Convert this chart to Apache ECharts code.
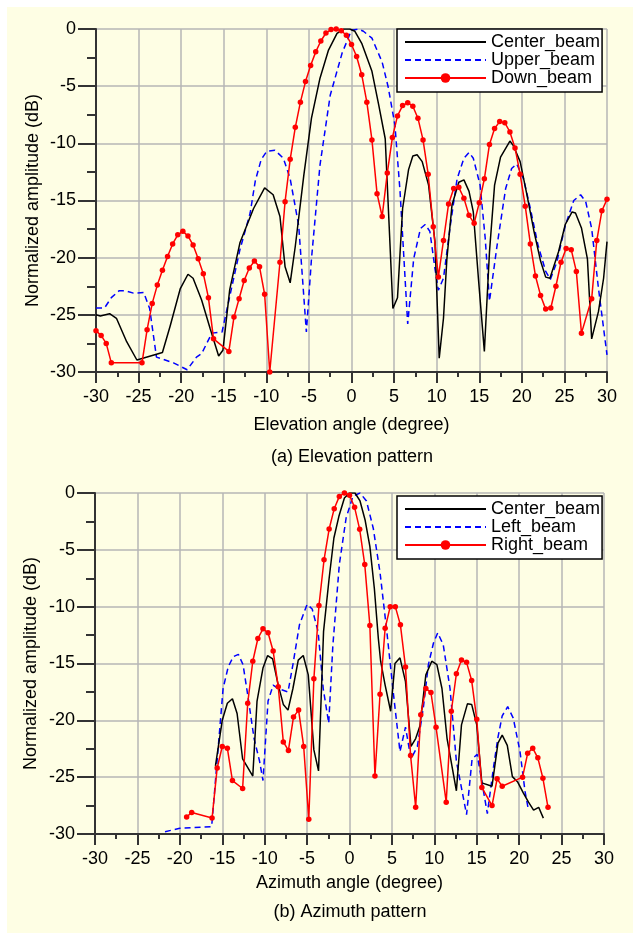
<!DOCTYPE html>
<html>
<head>
<meta charset="utf-8">
<script src="https://cdn.jsdelivr.net/npm/echarts/dist/echarts.min.js"></script>
<style>
  html, body { margin: 0; padding: 0; background: #fff; }
  #chart { width: 633px; height: 933px; }
</style>
</head>
<body>
<div id="chart"></div>
<script>
// (a) elevation pattern, points are [angle (degree), amplitude (dB)]
var elevCenter = [
  [-30, -25.0], [-29.5, -25.1], [-28.4, -24.9], [-27.6, -25.3], [-26.4, -27.35], [-25.2, -28.95],
  [-22.2, -28.3], [-21.3, -26.0], [-20.1, -22.7], [-19.2, -21.45], [-18.6, -21.8], [-17.6, -23.7],
  [-16.6, -26.2], [-15.6, -28.6], [-15.1, -28.1], [-14.3, -22.8], [-13.1, -18.7], [-11.5, -15.7],
  [-10.2, -13.9], [-9.2, -14.5], [-8.4, -16.4], [-7.8, -20.8], [-7.2, -22.2], [-6.6, -19.0],
  [-5.6, -12.8], [-4.7, -7.8], [-3.7, -4.3], [-2.7, -1.84], [-1.7, -0.38], [-0.9, 0], [-0.2, 0],
  [0.4, -0.2], [1.2, -1.25], [2.4, -3.7], [3.2, -6.65], [3.96, -9.6], [4.86, -24.45], [5.4, -23.5],
  [6.0, -15.7], [6.7, -12.3], [7.2, -11.1], [7.7, -11.0], [8.3, -11.6], [9.05, -13.65], [9.8, -18.6],
  [10.3, -28.8], [10.8, -25.3], [11.2, -20.1], [11.8, -15.4], [12.6, -13.4], [13.2, -13.2],
  [13.8, -14.2], [14.3, -16.0], [14.9, -21.8], [15.6, -28.2], [16.2, -19.5], [16.8, -13.65],
  [17.5, -11.2], [18.6, -9.8], [19.0, -10.2], [19.8, -11.6], [20.6, -14.5], [21.4, -17.6],
  [22.2, -20.3], [22.8, -21.7], [23.3, -21.8], [24.3, -19.5], [25.1, -17.1], [25.9, -16.0],
  [26.3, -16.1], [27.0, -17.4], [27.7, -20.1], [28.2, -27.1], [29.0, -24.7], [29.6, -21.8], [30, -18.6]
];
var elevUpper = [
  [-30, -24.4], [-29.0, -24.4], [-28.2, -23.5], [-27.3, -22.9], [-26.5, -22.9], [-25.6, -23.1],
  [-24.4, -23.05], [-23.7, -24.45], [-22.9, -28.7], [-20.9, -29.2], [-19.3, -29.8], [-18.2, -28.7],
  [-17.6, -28.4], [-16.4, -26.6], [-15.2, -26.5], [-14.3, -23.4], [-13.1, -19.3], [-11.9, -16.1],
  [-11.3, -13.3], [-10.6, -11.4], [-9.95, -10.7], [-9.0, -10.6], [-8.0, -11.3], [-7.2, -13.1],
  [-6.2, -17.2], [-5.3, -26.5], [-4.7, -20.1], [-3.7, -11.9], [-2.5, -5.8], [-1.1, -2.1], [0, -0.1],
  [0.8, 0], [1.4, -0.2], [2.4, -0.8], [3.6, -2.9], [4.3, -5.05], [5.1, -8.4], [5.7, -14.2],
  [6.6, -25.8], [7.3, -20.1], [8.1, -17.45], [8.65, -17.1], [9.2, -17.7], [9.8, -20.95],
  [10.2, -22.85], [10.8, -21.8], [11.6, -17.2], [12.4, -13.1], [13.2, -11.3], [13.8, -10.8],
  [14.3, -11.3], [15.1, -13.65], [15.7, -18.3], [16.2, -23.8], [17.1, -18.9], [18.1, -13.95],
  [18.8, -12.2], [19.4, -11.8], [20.2, -13.1], [21.0, -15.7], [21.9, -18.9], [22.8, -21.2],
  [23.35, -21.9], [24.1, -20.4], [25.1, -17.2], [26.1, -15.0], [26.9, -14.5], [27.5, -15.1],
  [28.2, -17.45], [29.0, -22.7], [30, -28.5]
];
var elevDown = [
  [-30, -26.4], [-29.4, -26.8], [-28.8, -27.5], [-28.2, -29.2], [-24.6, -29.2], [-24.0, -26.3],
  [-23.4, -24.0], [-22.8, -22.4], [-22.2, -21.1], [-21.6, -19.9], [-21.0, -18.8], [-20.4, -18.0],
  [-19.8, -17.7], [-19.2, -18.1], [-18.6, -18.9], [-18.0, -20.1], [-17.4, -21.4], [-16.8, -23.5],
  [-16.2, -27.1], [-14.4, -28.2], [-13.8, -25.2], [-13.2, -23.6], [-12.6, -22.0], [-12.0, -20.9],
  [-11.4, -20.3], [-10.8, -20.8], [-10.2, -23.2], [-9.6, -30.0], [-8.4, -20.4], [-7.8, -15.1],
  [-7.2, -11.4], [-6.6, -8.6], [-6.0, -6.4], [-5.4, -4.6], [-4.8, -3.2], [-4.2, -2.0], [-3.6, -1.05],
  [-3.0, -0.35], [-2.4, -0.05], [-1.8, 0], [-1.2, -0.15], [-0.6, -0.55], [0, -1.35], [0.6, -2.4],
  [1.2, -4.0], [1.8, -6.4], [2.4, -9.7], [3.0, -14.4], [3.6, -16.4], [4.2, -12.6], [4.8, -9.5],
  [5.4, -7.6], [6.0, -6.7], [6.6, -6.45], [7.2, -6.75], [7.8, -7.8], [8.4, -9.7], [9.0, -12.7],
  [9.6, -17.3], [10.2, -21.7], [10.8, -18.5], [11.4, -15.3], [12.0, -13.95], [12.6, -13.85],
  [13.2, -14.8], [13.8, -16.3], [14.4, -17.0], [15.0, -15.2], [15.6, -13.1], [16.2, -10.1],
  [16.8, -8.7], [17.4, -8.1], [18.0, -8.2], [18.6, -9.0], [19.2, -10.4], [19.8, -12.7], [20.4, -15.5],
  [21.0, -18.8], [21.6, -21.6], [22.2, -23.3], [22.8, -24.5], [23.4, -24.4], [24.0, -22.5],
  [24.6, -20.4], [25.2, -19.2], [25.8, -19.3], [26.4, -21.2], [27.0, -26.6], [28.2, -23.6],
  [28.8, -18.5], [29.4, -15.9], [30, -14.9]
];

// (b) azimuth pattern
var aziCenter = [
  [-15.8, -24.0], [-15.0, -20.0], [-14.4, -18.5], [-13.8, -18.1], [-13.25, -19.4], [-12.6, -23.4],
  [-11.4, -24.9], [-10.9, -18.3], [-10.2, -15.4], [-9.65, -14.3], [-9.06, -14.6], [-8.4, -16.9],
  [-7.8, -18.6], [-7.25, -19.1], [-6.67, -17.2], [-6.04, -14.7], [-5.45, -14.3], [-4.86, -16.0],
  [-4.2, -22.6], [-3.65, -24.45], [-3.06, -12.2], [-2.4, -7.5], [-1.84, -3.96], [-1.25, -2.05],
  [-0.6, -0.44], [0, 0], [0.65, 0], [1.24, -0.7], [1.83, -2.35], [2.4, -4.7], [2.93, -8.4],
  [3.4, -12.8], [3.67, -14.8], [4.2, -16.9], [4.85, -19.2], [5.36, -15.0], [5.95, -14.5],
  [6.6, -16.6], [7.25, -22.3], [7.8, -21.6], [8.3, -20.5], [9.0, -16.0], [9.7, -14.8], [10.3, -15.1],
  [10.9, -17.2], [11.5, -21.6], [12.6, -26.2], [13.2, -20.4], [13.9, -18.55], [14.4, -18.6],
  [15.0, -20.4], [15.6, -25.5], [16.8, -25.8], [17.5, -22.0], [18.0, -21.3], [18.6, -22.2],
  [19.2, -24.95], [19.8, -25.4], [20.5, -26.4], [21.1, -27.2], [21.7, -27.9], [22.3, -27.65],
  [22.85, -28.6]
];
var aziLeft = [
  [-21.75, -29.8], [-20.0, -29.5], [-16.25, -29.35], [-15.6, -23.5], [-14.9, -17.2], [-14.3, -15.3],
  [-13.7, -14.4], [-13.1, -14.2], [-12.55, -15.1], [-12.0, -17.75], [-11.25, -21.6], [-10.6, -23.6],
  [-10.2, -25.3], [-9.6, -18.3], [-9.0, -16.9], [-8.4, -17.2], [-7.25, -17.5], [-6.67, -15.1],
  [-5.9, -11.6], [-5.0, -9.8], [-4.4, -10.2], [-3.7, -12.2], [-3.1, -17.2], [-2.45, -20.25],
  [-1.96, -13.4], [-1.2, -6.3], [-0.4, -2.2], [0.4, -0.3], [1.24, 0], [2.0, -0.7], [2.8, -3.1],
  [3.6, -7.0], [4.4, -12.2], [5.2, -17.8], [5.95, -22.75], [6.6, -20.6], [7.25, -23.4], [8.0, -22.3],
  [8.7, -18.9], [9.3, -15.1], [9.9, -13.2], [10.4, -12.3], [11.05, -13.35], [11.85, -17.2],
  [12.6, -23.6], [13.8, -28.3], [14.45, -23.4], [15.05, -23.0], [15.6, -25.4], [16.25, -28.2],
  [17.0, -24.0], [17.5, -21.5], [18.0, -19.6], [18.65, -18.8], [19.3, -19.8], [20.1, -22.75],
  [20.7, -26.3], [21.1, -27.9]
];
var aziRight = [
  [-19.2, -28.5], [-18.6, -28.1], [-16.2, -28.6], [-15.6, -24.2], [-15.0, -22.3], [-14.4, -22.45],
  [-13.8, -25.3], [-12.6, -26.0], [-12.0, -18.5], [-11.4, -14.8], [-10.8, -12.8], [-10.2, -11.95],
  [-9.6, -12.3], [-9.0, -13.9], [-8.4, -17.05], [-7.8, -21.9], [-7.2, -22.65], [-6.6, -19.7],
  [-6.0, -19.1], [-5.4, -22.3], [-4.8, -28.7], [-4.2, -16.35], [-3.6, -9.9], [-3.0, -5.87],
  [-2.4, -3.17], [-1.8, -1.38], [-1.2, -0.3], [-0.6, 0], [0, -0.2], [0.6, -1.26], [1.2, -3.2],
  [1.8, -6.3], [2.4, -11.65], [3.0, -24.9], [3.6, -17.7], [4.2, -11.9], [4.8, -10.0], [5.4, -10.0],
  [6.0, -11.6], [6.6, -15.3], [7.2, -23.1], [7.8, -27.65], [8.4, -19.5], [9.0, -17.2], [9.6, -17.55],
  [10.2, -20.6], [11.4, -27.2], [12.0, -19.2], [12.6, -15.9], [13.2, -14.7], [13.8, -14.9],
  [14.4, -16.5], [15.0, -19.9], [15.6, -25.9], [16.8, -27.5], [17.4, -25.15], [18.0, -25.8],
  [20.4, -25.0], [21.0, -22.9], [21.6, -22.45], [22.2, -23.3], [22.8, -25.1], [23.4, -27.65]
];

var FONT = 'Liberation Sans';
var AXIS_COLOR = '#333';
var NO_MARK = 'rgba(0,0,0,0)';

function xAxisFor(grid, name, nameGap) {
  return {
    gridIndex: grid,
    type: 'value',
    min: -30,
    max: 30,
    interval: 5,
    name: name,
    nameLocation: 'middle',
    nameGap: nameGap,
    nameTextStyle: { fontFamily: FONT, fontSize: 18, color: '#000' },
    axisLine: { onZero: false, lineStyle: { color: AXIS_COLOR, width: 2 } },
    axisTick: { length: 11, lineStyle: { color: AXIS_COLOR, width: 2 } },
    minorTick: { show: true, splitNumber: 2, length: 5, lineStyle: { color: AXIS_COLOR, width: 2 } },
    axisLabel: { fontFamily: FONT, fontSize: 18, color: '#000', margin: 16, showMinLabel: true, showMaxLabel: true },
    splitLine: { show: true, lineStyle: { color: '#b6b6b6', width: 1.5 } }
  };
}

function yAxisFor(grid, nameGap) {
  return {
    gridIndex: grid,
    type: 'value',
    min: -30,
    max: 0,
    interval: 5,
    name: 'Normalized amplitude (dB)',
    nameLocation: 'middle',
    nameGap: nameGap,
    nameMoveOverlap: false,
    nameTextStyle: { fontFamily: FONT, fontSize: 18, color: '#000' },
    axisLine: { onZero: false, lineStyle: { color: AXIS_COLOR, width: 2 } },
    axisTick: { length: 18, lineStyle: { color: AXIS_COLOR, width: 2 } },
    minorTick: { show: true, splitNumber: 2, length: 9, lineStyle: { color: AXIS_COLOR, width: 2 } },
    axisLabel: { fontFamily: FONT, fontSize: 18, color: '#000', margin: 20, showMinLabel: true, showMaxLabel: true },
    splitLine: { show: true, lineStyle: { color: '#b6b6b6', width: 1.5 } }
  };
}

function solid(name, idx, data) {
  return {
    type: 'line', name: name, xAxisIndex: idx, yAxisIndex: idx, data: data,
    symbol: 'none', lineStyle: { color: '#000', width: 1.5 }, itemStyle: { color: NO_MARK }, z: 3
  };
}
function dashed(name, idx, data) {
  return {
    type: 'line', name: name, xAxisIndex: idx, yAxisIndex: idx, data: data,
    symbol: 'none', lineStyle: { color: '#0000ff', width: 1.5, type: [6, 4] }, itemStyle: { color: NO_MARK }, z: 2
  };
}
function dotted(name, idx, data) {
  return {
    type: 'line', name: name, xAxisIndex: idx, yAxisIndex: idx, data: data,
    symbol: 'circle', symbolSize: 5.5, showAllSymbol: true,
    lineStyle: { color: '#ff0000', width: 1.5 }, itemStyle: { color: '#ff0000' }, z: 4
  };
}

// legend rows: the plain lines hide the symbol the line legend icon adds
function legendFor(lineNames, markName, top) {
  var items = lineNames.map(function (n) {
    return { name: n, itemStyle: { opacity: 0 } };
  });
  items.push({ name: markName });
  return {
    data: items,
    orient: 'vertical',
    left: 397,
    top: top,
    backgroundColor: '#fff',
    borderColor: '#000',
    borderWidth: 1.5,
    borderRadius: 0,
    padding: [4, 2, 5, 7],
    itemWidth: 81,
    itemHeight: 12,
    itemGap: 0,
    selectedMode: false,
    textStyle: { fontFamily: FONT, fontSize: 18, lineHeight: 17.5, color: '#000' }
  };
}

var chart = echarts.init(document.getElementById('chart'));
chart.setOption({
  animation: false,
  backgroundColor: '#fff',
  graphic: [
    { type: 'rect', left: 7, top: 7, z: -10, silent: true, shape: { width: 626, height: 926 }, style: { fill: '#fefee4' } },
    { type: 'text', x: 352, y: 457, silent: true,
      style: { text: '(a) Elevation pattern', fontFamily: FONT, fontSize: 18, fill: '#000', textAlign: 'center', textVerticalAlign: 'middle', verticalAlign: 'middle' } },
    { type: 'text', x: 350, y: 912, silent: true,
      style: { text: '(b) Azimuth pattern', fontFamily: FONT, fontSize: 18, fill: '#000', textAlign: 'center', textVerticalAlign: 'middle', verticalAlign: 'middle' } }
  ],
  grid: [
    { left: 96, top: 29, width: 511, height: 343 },
    { left: 95, top: 493, width: 509, height: 341 }
  ],
  xAxis: [
    xAxisFor(0, 'Elevation angle (degree)', 44),
    xAxisFor(1, 'Azimuth angle (degree)', 40)
  ],
  yAxis: [yAxisFor(0, 54), yAxisFor(1, 55)],
  legend: [
    legendFor(['Center_beam', 'Upper_beam'], 'Down_beam', 29),
    legendFor(['Center_beam', 'Left_beam'], 'Right_beam', 496)
  ],
  series: [
    solid('Center_beam', 0, elevCenter),
    dashed('Upper_beam', 0, elevUpper),
    dotted('Down_beam', 0, elevDown),
    solid('Center_beam', 1, aziCenter),
    dashed('Left_beam', 1, aziLeft),
    dotted('Right_beam', 1, aziRight)
  ]
});
</script>
</body>
</html>
